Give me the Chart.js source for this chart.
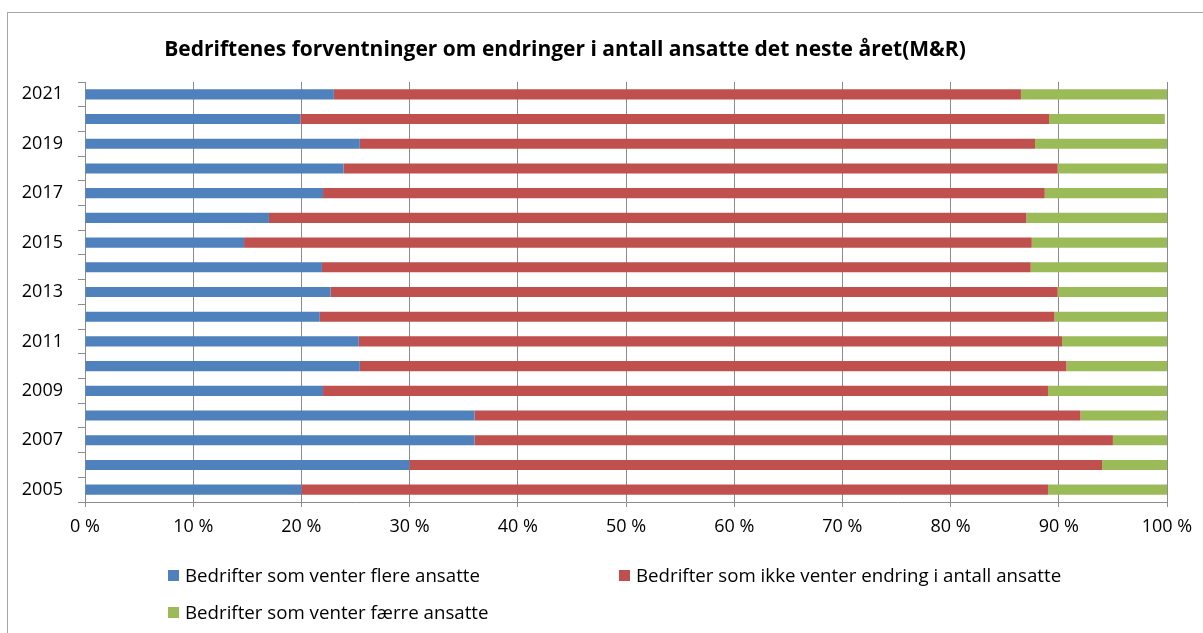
<!DOCTYPE html>
<html>
<head>
<meta charset="utf-8">
<script src="https://cdn.jsdelivr.net/npm/chart.js@4.4.1/dist/chart.umd.min.js"></script>
<style>
  html, body { margin: 0; padding: 0; background: #fff; }
  body { width: 1203px; height: 633px; position: relative; overflow: hidden; font-family: "Open Sans", sans-serif; }
  #frame { position: absolute; left: 7px; top: 12px; width: 1240px; height: 680px; border: 1px solid #a6a6a6; }
  #title { position: absolute; top: 34px; left: 100px; width: 930px; text-align: center; font-weight: bold; font-size: 21px; color: #000; white-space: nowrap; }
  canvas { position: absolute; left: 0; top: 0; }
  .leg { position: absolute; font-size: 18.7px; color: #000; white-space: nowrap; line-height: 22px; }
  .leg span { display: inline-block; width: 11px; height: 11px; margin-right: 6px; vertical-align: 1px; }
</style>
</head>
<body>
<div id="frame"></div>
<canvas id="chart" width="1203" height="633"></canvas>
<div id="title">Bedriftenes forventninger om endringer i antall ansatte det neste året(M&amp;R)</div>
<div id="legend"></div>
<script>
const years = ['2005', '2006', '2007', '2008', '2009', '2010', '2011', '2012', '2013',
  '2014', '2015', '2016', '2017', '2018', '2019', '2020', '2021'];

// andel i prosent, lest av figuren
const flere = [20, 30, 36, 36, 22, 25.4, 25.3, 21.7, 22.7, 21.9, 14.7, 17, 22, 23.9, 25.4, 19.9, 23];
const ingenEndring = [69, 64, 59, 56, 67, 65.3, 65, 67.9, 67.2, 65.5, 72.8, 70, 66.7, 66, 62.4, 69.2, 63.5];
const faerre = [11, 6, 5, 8, 11, 9.3, 9.7, 10.4, 10.1, 12.6, 12.5, 13, 11.3, 10.1, 12.2, 10.7, 13.5];

const seriesNames = [
  'Bedrifter som venter flere ansatte',
  'Bedrifter som ikke venter endring i antall ansatte',
  'Bedrifter som venter færre ansatte'
];
const colors = ['#4f81bd', '#c0504d', '#9bbb59'];
const xTicks = [0, 10, 20, 30, 40, 50, 60, 70, 80, 90, 100];

const gridColor = '#8c8c8c';
const tickFont = { family: 'Open Sans', size: 18 };

const datasets = [flere, ingenEndring, faerre].map((d, i) => ({
  label: seriesNames[i],
  data: d,
  backgroundColor: colors[i],
  borderWidth: 0,
  barPercentage: 0.41,
  categoryPercentage: 1.0
}));

new Chart(document.getElementById('chart'), {
  type: 'bar',
  data: { labels: years, datasets },
  options: {
    indexAxis: 'y',
    responsive: false,
    animation: false,
    layout: { padding: { top: 82, right: 36, bottom: 86, left: 0 } },
    plugins: { legend: { display: false }, tooltip: { enabled: false }, title: { display: false } },
    scales: {
      x: {
        stacked: true,
        min: 0,
        max: 100,
        afterBuildTicks: s => { s.ticks = xTicks.map(v => ({ value: v })); },
        afterFit: s => { s.height = 45; },
        ticks: { callback: v => v + ' %', color: '#000', font: tickFont, padding: 9, maxRotation: 0 },
        grid: { color: gridColor, lineWidth: 1, tickLength: 5 },
        border: { color: gridColor }
      },
      y: {
        stacked: true,
        reverse: true,
        afterFit: s => { s.width = 85; },
        ticks: {
          autoSkip: false,
          color: '#000',
          font: tickFont,
          padding: 15,
          callback: function (v) {
            const yr = this.getLabelForValue(v);
            return Number(yr) % 2 === 1 ? yr : '';
          }
        },
        grid: { offset: true, drawOnChartArea: false, color: gridColor, tickLength: 7 },
        border: { color: gridColor }
      }
    }
  }
});

// legend as in the original: two items on row one, one on row two
const legendPos = [[168, 564], [619, 564], [168, 601]];
const legendEl = document.getElementById('legend');
seriesNames.forEach((name, i) => {
  const item = document.createElement('div');
  item.className = 'leg';
  item.style.left = legendPos[i][0] + 'px';
  item.style.top = legendPos[i][1] + 'px';
  item.innerHTML = '<span style="background:' + colors[i] + '"></span>' + name;
  legendEl.appendChild(item);
});
</script>
</body>
</html>
